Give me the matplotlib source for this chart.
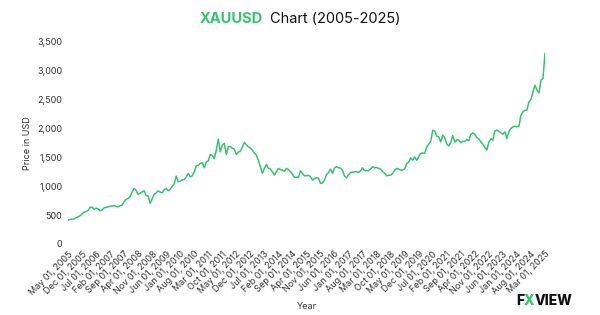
import matplotlib
matplotlib.use('Agg')
import matplotlib.pyplot as plt
import pandas as pd
from matplotlib.offsetbox import TextArea, HPacker, AnnotationBbox

# monthly gold price (USD), May 2005 - Mar 2025
y2005 = [415, 425, 430, 432, 455, 470, 490, 520]
y2006 = [550, 560, 580, 635, 640, 600, 620, 610, 577, 590, 625, 635]
y2007 = [640, 655, 657, 665, 650, 645, 660, 675, 735, 773, 790, 820]
y2008 = [900, 963, 930, 860, 880, 900, 922, 840, 830, 704, 780, 860]
y2009 = [888, 922, 900, 888, 940, 963, 922, 950, 998, 1040, 1176, 1080]
y2010 = [1085, 1110, 1115, 1160, 1223, 1165, 1180, 1250, 1355, 1360, 1395, 1410]
y2011 = [1320, 1424, 1440, 1552, 1530, 1482, 1620, 1817, 1597, 1713, 1742, 1552]
y2012 = [1684, 1690, 1660, 1643, 1552, 1590, 1609, 1680, 1759, 1720, 1684, 1660]
y2013 = [1626, 1575, 1540, 1450, 1337, 1223, 1310, 1378, 1310, 1300, 1250, 1194]
y2014 = [1250, 1310, 1290, 1280, 1260, 1310, 1290, 1252, 1210, 1154, 1160, 1154]
y2015 = [1268, 1220, 1182, 1182, 1190, 1165, 1107, 1135, 1147, 1140, 1050, 1058]
y2016 = [1110, 1205, 1235, 1297, 1223, 1320, 1340, 1320, 1315, 1275, 1175, 1147]
y2017 = [1205, 1240, 1245, 1252, 1250, 1240, 1270, 1320, 1270, 1270, 1272, 1300]
y2018 = [1337, 1318, 1325, 1310, 1298, 1253, 1224, 1182, 1190, 1194, 1222, 1280]
y2019 = [1310, 1300, 1280, 1280, 1300, 1395, 1420, 1493, 1450, 1510, 1450, 1515]
y2020 = [1569, 1575, 1570, 1684, 1730, 1780, 1972, 1960, 1868, 1855, 1770, 1886]
y2021 = [1840, 1730, 1700, 1760, 1880, 1765, 1805, 1800, 1755, 1780, 1775, 1810]
y2022 = [1790, 1900, 1926, 1900, 1845, 1820, 1770, 1730, 1670, 1630, 1765, 1824]
y2023 = [1800, 1960, 1975, 1950, 1926, 1903, 1942, 1828, 1950, 2001, 2030, 2041]
y2024 = [2030, 2040, 2232, 2290, 2318, 2320, 2462, 2503, 2640, 2751, 2664, 2618]
y2025 = [2837, 2870, 3300]

prices = (y2005 + y2006 + y2007 + y2008 + y2009 + y2010 + y2011 + y2012 + y2013
          + y2014 + y2015 + y2016 + y2017 + y2018 + y2019 + y2020 + y2021 + y2022
          + y2023 + y2024 + y2025)
dates = pd.date_range('2005-05-01', periods=len(prices), freq='MS')
labels = [d.strftime('%b %d, %Y') for d in dates]

green = '#34c56c'
dark = '#333333'
plt.rcParams['font.family'] = ['Inter', 'DejaVu Sans']

fig = plt.figure(figsize=(6, 3.15), dpi=100)
ax = fig.add_axes([0.1133, 0.2254, 0.795, 0.6413])

ax.plot(range(len(prices)), prices, color=green, linewidth=1.1)

ax.set_xlim(0, len(prices) - 1)
ax.set_ylim(0, 3500)
ax.set_yticks(range(0, 3501, 500))
ax.set_yticklabels([f'{v:,}' for v in range(0, 3501, 500)])
ticks = list(range(0, len(prices), 7))
ax.set_xticks(ticks)
ax.set_xticklabels([labels[i] for i in ticks], rotation=45, ha='right',
                   rotation_mode='anchor')
ax.tick_params(length=0, labelsize=6.5, labelcolor=dark, pad=4)
for s in ax.spines.values():
    s.set_visible(False)

ax.set_ylabel('Price in USD', fontsize=6.5, color=dark, labelpad=4)
ax.set_xlabel('Year', fontsize=6.5, color=dark, labelpad=4)

# title with green ticker
title = HPacker(children=[
    TextArea('XAUUSD', textprops=dict(color=green, fontsize=10.5, fontweight='bold')),
    TextArea('Chart (2005-2025)', textprops=dict(color='#111111', fontsize=10.5)),
], sep=5, pad=0, align='baseline')
fig.add_artist(AnnotationBbox(title, (0.5, 0.94), xycoords='figure fraction',
                              frameon=False, box_alignment=(0.5, 0.5)))

# logo
logo = HPacker(children=[
    TextArea('F', textprops=dict(color='#111111', fontsize=10, fontweight='heavy')),
    TextArea('X', textprops=dict(color=green, fontsize=10, fontweight='heavy')),
    TextArea('VIEW', textprops=dict(color='#111111', fontsize=10, fontweight='heavy')),
], sep=0, pad=0, align='baseline')
fig.add_artist(AnnotationBbox(logo, (0.907, 0.045), xycoords='figure fraction',
                              frameon=False, box_alignment=(0.5, 0.5)))

fig.savefig('out.png', dpi=100)
